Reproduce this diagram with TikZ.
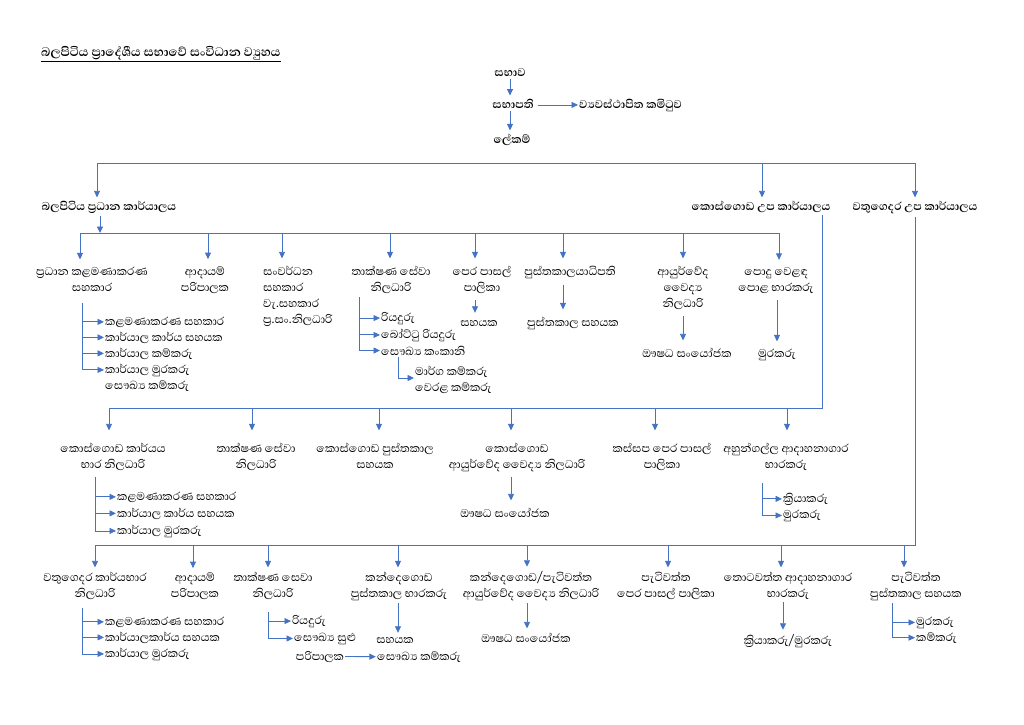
\documentclass[tikz,border=0pt]{standalone}
\usepackage{fontspec}
\setmainfont{Abhaya Libre}[Script=Sinhala]
\usetikzlibrary{arrows.meta}
\definecolor{cblue}{RGB}{68,114,196}
\newcommand\fs{\fontsize{14.5}{16}\selectfont}
\tikzset{
  ln/.style={draw=cblue, line width=0.85pt},
  arr/.style={ln, -{Triangle[width=6pt,length=6.5pt]}},
  tx/.style={inner xsep=1pt, inner ysep=4pt, align=center, font=\fs, anchor=base},
  txa/.style={tx, inner ysep=7pt},
  txb/.style={tx, inner ysep=12pt},
  txc/.style={tx, inner ysep=4pt},
  hd/.style={inner xsep=1pt, inner ysep=3pt, font=\fs\bfseries, anchor=base},
  it/.style={inner xsep=1pt, inner ysep=1pt, anchor=base west, font=\fs},
}
\begin{document}
\begin{tikzpicture}[x=1pt,y=-1pt]
\useasboundingbox (0,0) rectangle (1024,724);
% ---------- top
\node[hd, anchor=base west, font=\fontsize{15.8}{17}\selectfont\bfseries] (title) at (40,56) {\underline{බලපිටිය ප්^^^^200dරාදේශීය සභාවේ සංවිධාන ව්^^^^200dයුහය}};
\node[hd] (sabhawa) at (510,76) {සභාව};
\node[hd] (sabhapathi) at (513,108) {සභාපති};
\node[hd, anchor=base west] (vyav) at (578,108) {ව්^^^^200dයවස්ථාපිත කමිටුව};
\node[hd] (lekam) at (512,143) {ලේකම්};
\draw[arr] (sabhawa.south -| 510,0) -- (sabhapathi.north -| 510,0);
\draw[arr, shorten <=3pt] (sabhapathi.east |- vyav.west) -- (vyav.west);
\draw[arr] (sabhapathi.south -| 510,0) -- (lekam.north -| 510,0);
% ---------- offices
\node[hd] (bala) at (109,210) {බලපිටිය ප්^^^^200dරධාන කාර්යාලය};
\node[hd] (kos) at (761,210) {කොස්ගොඩ උප කාර්යාලය};
\node[hd] (vat) at (915,210) {වතුගෙදර උප කාර්යාලය};
\coordinate (b0a) at (97,163);
\coordinate (b0b) at (762,163);
\coordinate (b0c) at (915,163);
\draw[ln] (b0a) -- (b0c);
\draw[arr] (b0a) -- (b0a |- bala.north);
\draw[arr] (b0b) -- (b0b |- kos.north);
\draw[arr] (b0c) -- (b0c |- vat.north);
% ---------- row 3 (Balapitiya head office)
\coordinate (dAb) at (100,233);
\coordinate (dA1) at (80,233);
\coordinate (dA2) at (208,233);
\coordinate (dA3) at (282,233);
\coordinate (dA4) at (390,233);
\coordinate (dA5) at (475,233);
\coordinate (dA6) at (563,233);
\coordinate (dA7) at (683,233);
\coordinate (dA8) at (779,233);
\draw[arr] (dAb |- bala.south) -- (dAb);
\draw[ln] (dA1) -- (dA8);
\node[txa] (r3a) at (92,291) {ප්^^^^200dරධාන කළමණාකරණ\\සහකාර};
\node[txa] (r3b) at (205,291) {ආදායම්\\පරිපාලක};
\node[txa, align=left, anchor=base west] (r3c) at (262,323) {සංවර්ධන\\සහකාර\\වැ.සහකාර\\ප්^^^^200dර.සං.නිලධාරි};
\node[txa] (r3d) at (391,291) {තාක්ෂණ සේවා\\නිලධාරි};
\node[txa] (r3e) at (482,291) {පෙර පාසල්\\පාලිකා};
\node[txa] (r3f) at (570,275) {පුස්තකාලයාධිපති};
\node[txa] (r3g) at (683,307) {ආයුර්වේද\\වෛද්^^^^200dය\\නිලධාරි};
\node[txa] (r3h) at (776,291) {පොදු වෙළඳ\\පොළ භාරකරු};
\foreach \d/\n in {dA1/r3a,dA2/r3b,dA3/r3c,dA4/r3d,dA5/r3e,dA6/r3f,dA7/r3g,dA8/r3h}
  \draw[arr] (\d) -- (\d |- \n.north);
% sub-list under r3a
\node[it] (a1) at (104,325) {කළමණාකරණ සහකාර};
\node[it] (a2) at (104,341) {කාර්යාල කාර්ය සහයක};
\node[it] (a3) at (104,357) {කාර්යාල කම්කරු};
\node[it] (a4) at (104,373) {කාර්යාල මුරකරු};
\node[it] (a5) at (104,389) {සෞඛ්^^^^200dය කම්කරු};
\draw[ln] (82,303) -- (a4.west -| 82,0);
\foreach \n in {a1,a2,a3,a4} \draw[arr] (\n.west -| 82,0) -- (\n.west);
% sub-list under r3d
\node[it] (d1) at (380,321) {රියදුරු};
\node[it] (d2) at (380,338) {බෝට්ටු රියදුරු};
\node[it] (d3) at (380,355) {සෞඛ්^^^^200dය කංකානි};
\node[it, align=left] (d4) at (414,391) {මාර්ග කම්කරු\\වෙරළ කම්කරු};
\draw[ln] (359,297) -- (d3.west -| 359,0);
\foreach \n in {d1,d2,d3} \draw[arr] (\n.west -| 359,0) -- (\n.west);
\coordinate (d3c) at (398,378);
\draw[arr] (d3.south -| d3c) -- (d3c) -- (d4.west |- d3c);
% other children row 3
\node[txa] (e1) at (479,326) {සහයක};
\draw[arr] (r3e.south -| 475,0) -- (e1.north -| 475,0);
\node[txa] (f1) at (573,326) {පුස්තකාල සහයක};
\draw[arr] (r3f.south -| 563,0) -- (f1.north -| 563,0);
\node[txa] (g1) at (687,357) {ඖෂධ සංයෝජක};
\draw[arr] (r3g.south -| 683,0) -- (g1.north -| 683,0);
\node[txa] (h1) at (777,357) {මුරකරු};
\draw[arr] (r3h.south -| 777,0) -- (h1.north -| 777,0);
% ---------- row 4 (Kosgoda)
\coordinate (dK) at (822,408);
\coordinate (dB1) at (109,408);
\coordinate (dB2) at (252,408);
\coordinate (dB3) at (379,408);
\coordinate (dB4) at (511,408);
\coordinate (dB5) at (655,408);
\coordinate (dB6) at (787,408);
\draw[ln] (dK |- kos.south) -- (dK) -- (dB1);
\node[txb] (r4a) at (113,468) {කොස්ගොඩ කාර්යය\\භාර නිලධාරි};
\node[txb] (r4b) at (256,468) {තාක්ෂණ සේවා\\නිලධාරි};
\node[txb] (r4c) at (375,468) {කොස්ගොඩ පුස්තකාල\\සහයක};
\node[txb] (r4d) at (517,468) {කොස්ගොඩ\\ආයුර්වේද වෛද්^^^^200dය නිලධාරි};
\node[txb] (r4e) at (662,468) {කස්සප පෙර පාසල්\\පාලිකා};
\node[txb] (r4f) at (786,468) {අහුන්ගල්ල ආදාහනාගාර\\භාරකරු};
\foreach \d/\n in {dB1/r4a,dB2/r4b,dB3/r4c,dB4/r4d,dB5/r4e,dB6/r4f}
  \draw[arr] (\d) -- (\d |- \n.north);
\node[it] (k1) at (116,500) {කළමණාකරණ සහකාර};
\node[it] (k2) at (116,517) {කාර්යාල කාර්ය සහයක};
\node[it] (k3) at (116,534) {කාර්යාල මුරකරු};
\draw[ln] (95,477) -- (k3.west -| 95,0);
\foreach \n in {k1,k2,k3} \draw[arr] (\n.west -| 95,0) -- (\n.west);
\node[txa] (kd1) at (505,517) {ඖෂධ සංයෝජක};
\draw[arr] (511,477) -- (kd1.north -| 511,0);
\node[it] (kf1) at (782,502) {ක්^^^^200dරියාකරු};
\node[it] (kf2) at (782,518) {මුරකරු};
\draw[ln] (762,483) -- (kf2.west -| 762,0);
\foreach \n in {kf1,kf2} \draw[arr] (\n.west -| 762,0) -- (\n.west);
% ---------- row 5 (Vatugedara)
\coordinate (dV) at (915,545);
\coordinate (dC1) at (95,545);
\coordinate (dC2) at (193,545);
\coordinate (dC3) at (268,545);
\coordinate (dC4) at (398,545);
\coordinate (dC5) at (527,545);
\coordinate (dC6) at (668,545);
\coordinate (dC7) at (781,545);
\coordinate (dC8) at (904,545);
\draw[ln] (dV |- vat.south) -- (dV) -- (dC1);
\node[txc] (r5a) at (95,597) {වතුගෙදර කාර්යභාර\\නිලධාරි};
\node[txc] (r5b) at (195,597) {ආදායම්\\පරිපාලක};
\node[txc] (r5c) at (273,597) {තාක්ෂණ සෙවා\\නිලධාරි};
\node[txc] (r5d) at (399,597) {කන්දෙගොඩ\\පුස්තකාල භාරකරු};
\node[txc] (r5e) at (531,597) {කන්දෙගොඩ/පැටිවත්ත\\ආයුර්වේද වෛද්^^^^200dය නිලධාරි};
\node[txc] (r5f) at (666,597) {පැටිවත්ත\\පෙර පාසල් පාලිකා};
\node[txc] (r5g) at (788,597) {තොටවත්ත ආදාහනාගාර\\භාරකරු};
\node[txc] (r5h) at (916,597) {පැටිවත්ත\\පුස්තකාල සහයක};
\foreach \d/\n in {dC1/r5a,dC2/r5b,dC3/r5c,dC4/r5d,dC5/r5e,dC6/r5f,dC7/r5g,dC8/r5h}
  \draw[arr] (\d) -- (\d |- \n.north);
\node[it] (v1) at (104,625) {කළමණාකරණ සහකාර};
\node[it] (v2) at (104,641) {කාර්යාලකාර්ය සහයක};
\node[it] (v3) at (104,657) {කාර්යාල මුරකරු};
\draw[ln] (82,608) -- (v3.west -| 82,0);
\foreach \n in {v1,v2,v3} \draw[arr] (\n.west -| 82,0) -- (\n.west);
\node[it] (c1) at (291,624) {රියදුරු};
\node[it] (c2) at (293,641) {සෞඛ්^^^^200dය සුළු};
\node[tx] (c3) at (320,660) {පරිපාලක};
\node[tx] (c4) at (419,660) {සෞඛ්^^^^200dය කම්කරු};
\draw[ln] (268,612) -- (c2.west -| 268,0);
\foreach \n in {c1,c2} \draw[arr] (\n.west -| 268,0) -- (\n.west);
\draw[arr] (c3.east) -- (c4.west);
\node[tx] (dd1) at (395,643) {සහයක};
\draw[arr] (398,603) -- (dd1.north -| 398,0);
\node[tx] (ee1) at (526,642) {ඖෂධ සංයෝජක};
\draw[arr] (527,603) -- (ee1.north -| 527,0);
\node[tx] (gg1) at (788,644) {ක්^^^^200dරියාකරු/මුරකරු};
\draw[arr] (783,602) -- (gg1.north -| 783,0);
\node[it] (hh1) at (915,625) {මුරකරු};
\node[it] (hh2) at (915,641) {කම්කරු};
\draw[ln] (892,603) -- (hh2.west -| 892,0);
\foreach \n in {hh1,hh2} \draw[arr] (\n.west -| 892,0) -- (\n.west);
\end{tikzpicture}
\end{document}
